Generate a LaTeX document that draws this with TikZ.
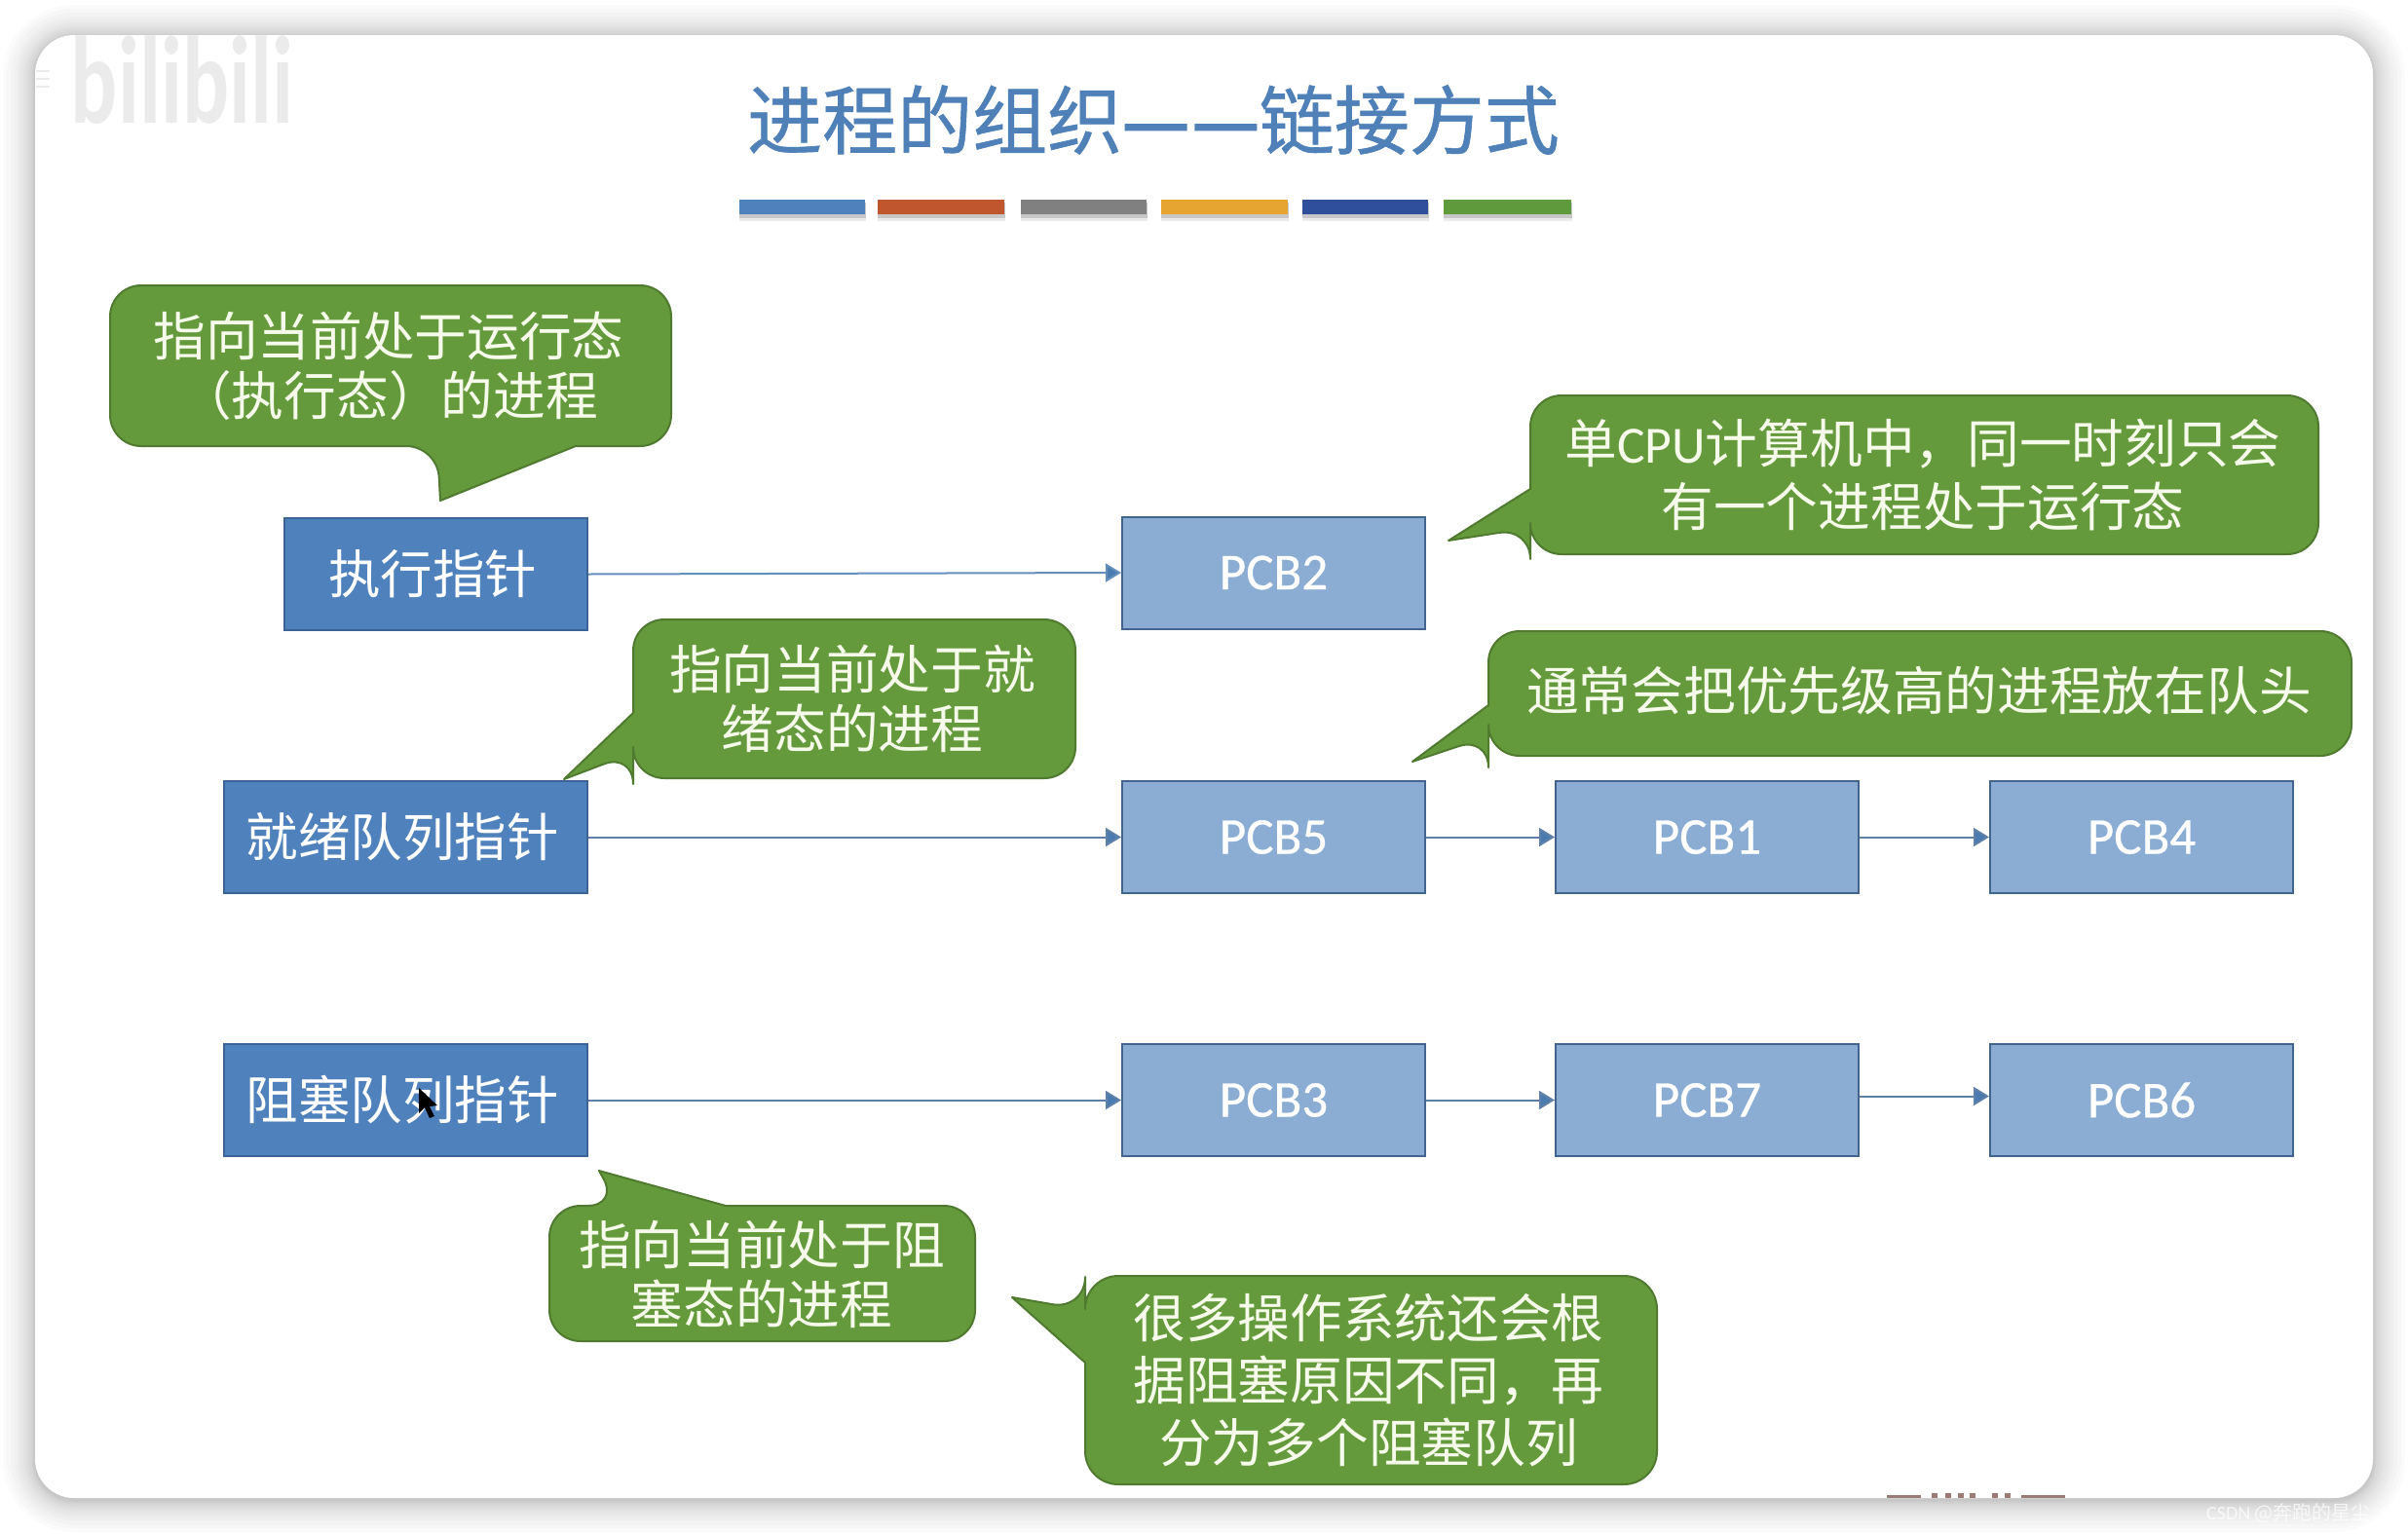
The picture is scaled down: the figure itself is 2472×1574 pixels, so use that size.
\documentclass[tikz,border=0pt]{standalone}
\usepackage{fontspec}
\setmainfont{Noto Sans CJK SC}
\newfontfamily\lat{Carlito}
\newfontfamily\latb[FakeBold=0.6]{Carlito}
\newfontfamily\titlef[FakeBold=0.8]{Noto Sans CJK SC}
\newfontfamily\dashf[FakeBold=3]{Noto Sans CJK SC}
\definecolor{ptrfill}{HTML}{4F81BD}
\definecolor{ptrline}{HTML}{3A6496}
\definecolor{pcbfill}{HTML}{8BADD3}
\definecolor{pcbline}{HTML}{41658F}
\definecolor{arrowc}{HTML}{4A7BB0}
\definecolor{linkc}{HTML}{5F80A8}
\definecolor{calloutfill}{HTML}{659A3C}
\definecolor{calloutline}{HTML}{4F7A30}
\definecolor{calloutfont}{HTML}{F6FAEA}
\definecolor{titlec}{HTML}{4F81B8}
\definecolor{fragc}{HTML}{7A5048}
\usetikzlibrary{arrows.meta}
\tikzset{
  x=1pt,y=-1pt,
  boxtext/.style={font=\fontsize{53.5}{61}\selectfont,text=white},
  ptrbox/.style={boxtext,draw=ptrline,line width=2pt,fill=ptrfill,minimum height=115pt,inner sep=0pt,anchor=west},
  pcbbox/.style={font=\latb\fontsize{53}{61}\selectfont,text=white,draw=pcbline,line width=2pt,fill=pcbfill,minimum width=311pt,minimum height=115pt,inner sep=0pt,anchor=west},
  link/.style={draw=linkc,line width=2pt,-{Triangle[length=16pt,width=19pt,fill=arrowc]}},
  bubble/.style={draw=calloutline,line width=2pt,fill=calloutfill,line join=round},
  bubbletext/.style={font=\fontsize{53.7}{61}\selectfont,text=calloutfont,align=center,inner sep=0pt},
}
\newcommand{\boxlab}[1]{\raisebox{1.5pt}{#1}}
\newcommand{\pcblab}[1]{\raisebox{-1.5pt}{#1}}
\begin{document}
\begin{tikzpicture}
\useasboundingbox (0,0) rectangle (2472,1574);
\fill[white] (0,0) rectangle (2472,1574);
% soft shadow of the card
\foreach \g in {1,2,3,4,6,8,10,12,15,18,21,25,29,33}{
  \pgfmathsetmacro{\rr}{40+\g}
  \fill[black,opacity=.014,rounded corners=\rr pt] (36-\g,36-\g+2) rectangle (2436+\g,1538+\g+2);
}
\fill[white,rounded corners=40pt] (36,36) rectangle (2436,1538);
% bottom fragment cut off by the card edge
\fill[fragc,opacity=.75] (1937,1535) rectangle (1972,1538);
\foreach \x in {1983,1997,2010,2022,2045,2058}{\fill[fragc,opacity=.75] (\x,1533) rectangle (\x+6,1538);}
\fill[fragc,opacity=.75] (2075,1535) rectangle (2120,1538);
% watermarks
\node[font=\lat\bfseries\fontsize{128}{128}\selectfont,text=black!8,xscale=.7,inner sep=0pt] (wmark) at (187,82) {bilibili};
\foreach \y in {72,80,88}{\fill[black!8] (37,\y) rectangle (51,\y+2);}
\node[font=\fontsize{20}{20}\selectfont,text=white,opacity=.75,anchor=west,inner sep=0pt] (csdn) at (2265,1554) {{\lat CSDN} @奔跑的星尘};
% title
\node[font=\titlef\fontsize{77}{90}\selectfont,text=titlec,inner sep=0pt] (title) at (1184,123) {进程的组织{\dashf —\kern3pt—}链接方式};
% colour bars
\foreach \a/\b/\c in {759/888/4F81BD,901/1031/C0562D,1048/1177/808080,1192/1322/E5A530,1337/1466/2F4F9C,1482/1613/5F9A3C}{
  \definecolor{barc}{HTML}{\c}
  \fill[black,opacity=.08] (\a,208) rectangle (\b+1,227);
  \fill[black,opacity=.15] (\a,208) rectangle (\b+1,224);
  \fill[barc] (\a,205) rectangle (\b,220);
}
% pointer boxes
\node[ptrbox,minimum width=311pt] (exec) at (291,589.5) {\boxlab{执行指针\hspace{7pt}}};
\node[ptrbox,minimum width=373pt] (ready) at (229,859.5) {\boxlab{就绪队列指针\hspace{7pt}}};
\node[ptrbox,minimum width=373pt] (block) at (229,1129.5) {\boxlab{阻塞队列指针\hspace{7pt}}};
% PCB boxes
\node[pcbbox] (p2) at (1151,588) {\pcblab{PCB2}};
\node[pcbbox] (p5) at (1151,859.5) {\pcblab{PCB5}};
\node[pcbbox] (p1) at (1596,859.5) {\pcblab{PCB1}};
\node[pcbbox] (p4) at (2042,859.5) {\pcblab{PCB4}};
\node[pcbbox] (p3) at (1151,1129.5) {\pcblab{PCB3}};
\node[pcbbox] (p7) at (1596,1129.5) {\pcblab{PCB7}};
\node[pcbbox] (p6) at (2042,1129.5) {\pcblab{PCB6}};
% arrows
\draw[link,draw=arrowc!85] (exec.east) -- (p2.west);
\draw[link] (ready.east) -- (p5.west);
\draw[link] (p5.east) -- (p1.west);
\draw[link] (p1.east) -- (p4.west);
\draw[link] (block.east) -- (p3.west);
\draw[link] (p3.east) -- (p7.west);
\draw[link] ([yshift=4pt]p7.east) -- ([yshift=4pt]p6.west);
% callouts
\draw[bubble] (591,458) [rounded corners=32pt] -- (689,458) -- (689,293) -- (113,293) -- (113,458) -- (449,458) [sharp corners] -- (452,514) -- cycle;
\node[bubbletext] (c1) at (399,376) {指向当前处于运行态\\（执行态）的进程};

\draw[bubble] (650,732) [rounded corners=32pt] -- (650,636) -- (1104,636) -- (1104,799) -- (650,799) -- (650,773) [sharp corners] -- (579,800) -- cycle;
\draw[bubble,draw=none] (650,760) rectangle (652,762);
\node[bubbletext] (c2) at (875,717) {指向当前处于就\\绪态的进程};

\draw[bubble] (1571,502) [rounded corners=32pt] -- (1571,406) -- (2380,406) -- (2380,569) -- (1571,569) -- (1571,542) [sharp corners] -- (1487,555) -- cycle;
\node[bubbletext,font=\fontsize{53.7}{65}\selectfont] (c3) at (1974,488) {单{\lat CPU}计算机中，同一时刻只会\\有一个进程处于运行态};

\draw[bubble] (1528,724) [rounded corners=32pt] -- (1528,648) -- (2414,648) -- (2414,776) -- (1528,776) -- (1528,756) [sharp corners] -- (1450,782) -- cycle;
\node[bubbletext] (c4) at (1970,709) {通常会把优先级高的进程放在队头};

\draw[bubble] (745,1238) [rounded corners=32pt] -- (1001,1238) -- (1001,1377) -- (564,1377) -- (564,1238) -- (635,1238) [sharp corners] -- (615,1202) -- cycle;
\node[bubbletext] (c5) at (782,1308) {指向当前处于阻\\塞态的进程};

\draw[bubble] (1114,1399) [rounded corners=34pt] -- (1114,1524) -- (1701,1524) -- (1701,1310) -- (1114,1310) -- (1114,1345) [sharp corners] -- (1039,1332) -- cycle;
\node[bubbletext,font=\fontsize{53.7}{64}\selectfont] (c6) at (1405,1417) {很多操作系统还会根\\据阻塞原因不同，再\\分为多个阻塞队列};
% mouse cursor
\fill[black] (430,1117) -- (430,1143) -- (436,1137) -- (441,1148) -- (446,1146) -- (441,1136) -- (449,1135) -- cycle;
\end{tikzpicture}
\end{document}
